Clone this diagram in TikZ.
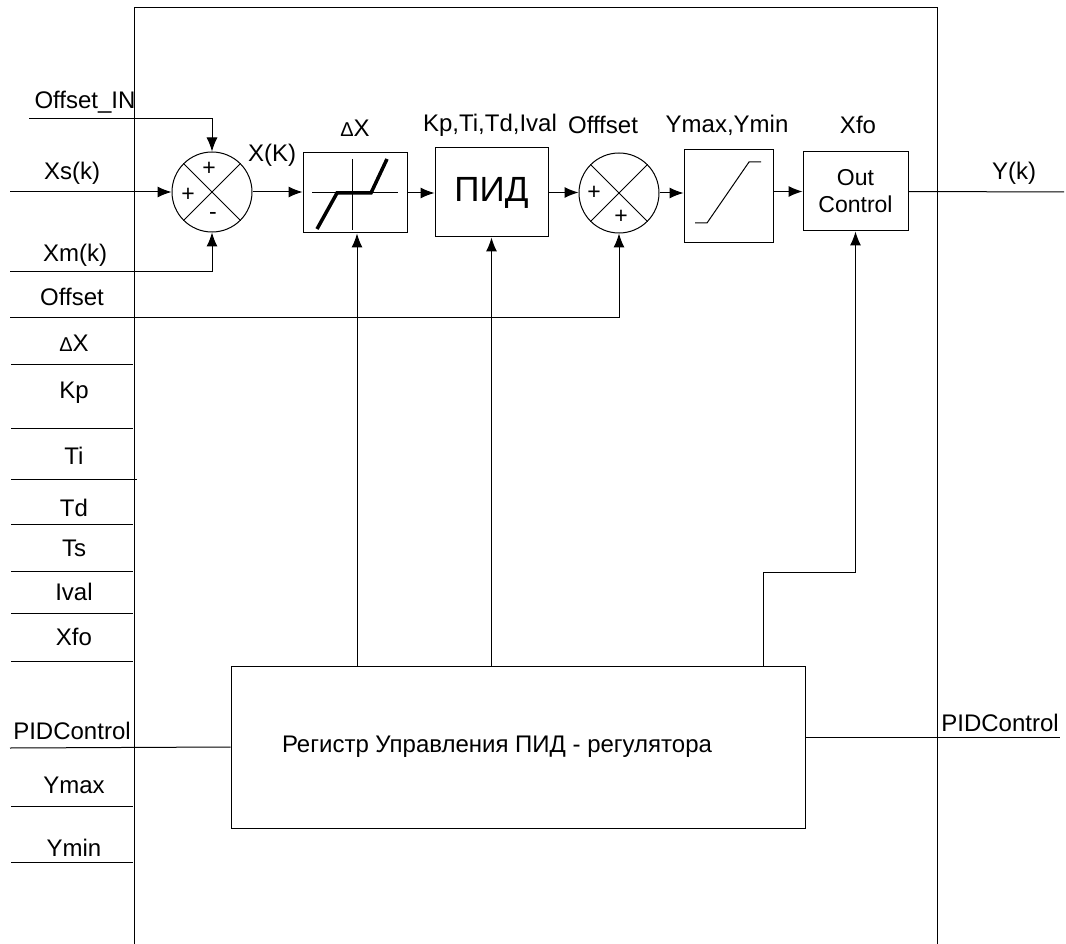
\documentclass[tikz,border=0pt]{standalone}
\usepackage{fontspec}
\setmainfont{Liberation Sans}
\usepackage{tikz}
\usetikzlibrary{arrows.meta, calc}
\newcommand\lblfont{\fontsize{24}{28}\selectfont}
\newcommand\sgnfont{\fontsize{23}{26}\selectfont}
\newcommand\dlt{{\fontsize{20}{24}\selectfont Δ}}

\begin{document}
\begin{tikzpicture}[x=1pt, y=-1pt, line width=1pt,
  every node/.style={font=\lblfont, inner sep=0pt},
  blk/.style={draw, rectangle},
  sumnode/.style={draw, circle, minimum size=80pt},
  arr/.style={-{Latex[length=14pt,width=11pt]}}]
  \useasboundingbox (0,0) rectangle (1066,944);

  % Frame of the block
  \draw (134,944) -- (134,8) -- (937,8) -- (937,944);

  % Blocks of the loop
  \node[sumnode] (sum1) at (212,192) {};
  \node[blk, minimum width=104pt, minimum height=80pt] (dz) at (355,193) {};
  \node[blk, minimum width=113pt, minimum height=89pt, font=\fontsize{35}{40}\selectfont] (pid) at (491.5,192.5) {ПИД};
  \node[sumnode] (sum2) at (619,193) {};
  \node[blk, minimum width=89pt, minimum height=93pt] (lim) at (728.5,196.5) {};
  \node[blk, minimum width=105pt, minimum height=79pt, align=center, font=\fontsize{23}{27}\selectfont] (outc) at (855.5,191.5) {Out\\Control};
  \node[blk, minimum width=574pt, minimum height=162pt] (reg) at (518,747) {};
  \node (regtxt) at (497,747) {Регистр Управления ПИД - регулятора};

  % Crosses and signs of the summers
  \foreach \s in {sum1, sum2}{
    \draw (\s.north west) -- (\s.south east);
    \draw (\s.north east) -- (\s.south west);
  }
  \node[font=\sgnfont] (s1a) at (209,169) {+};
  \node[font=\sgnfont] (s1b) at (188,195) {+};
  \node[font=\sgnfont] (s1c) at (213,216) {-};
  \node[font=\sgnfont] (s2a) at (594,193) {+};
  \node[font=\sgnfont] (s2b) at (621,217) {+};

  % Dead zone curve
  \draw (312,193) -- (398,193);
  \draw (352,159) -- (352,230);
  \draw[line width=3.5pt] (317,229) -- (337,193) -- (371,193) -- (387,159);

  % Limiter curve
  \draw (695,223) -- (707,223) -- (749,162) -- (761,162);

  % Labels above the blocks
  \node (lx) at (272,155) {X(K)};
  \node (ldx) at (355,128) {\dlt X};
  \node (lpar) at (490,125) {Kp,Ti,Td,Ival};
  \node (loff) at (603,125) {Offfset};
  \node (lyy) at (727,125) {Ymax,Ymin};
  \node (lxfo) at (858,125) {Xfo};
  \node (lyk) at (1014,173) {Y(k)};

  % Inputs
  \node (lofin) at (85,102) {Offset\_IN};
  \node (lxs) at (72,173) {Xs(k)};
  \node (lxm) at (75,255) {Xm(k)};
  \coordinate (ofin) at (29,119);
  \coordinate (xs) at (10,192);
  \coordinate (xm) at (10,272);
  \coordinate (off) at (10,317);
  \draw[arr] (ofin) -| (sum1.north);
  \draw[arr] (xs) -- (sum1.west);
  \draw[arr] (xm) -| (sum1.south);
  \draw[arr] (off) -| (sum2.south);
  \node (loffs) at (72,297) {Offset};

  % Forward path
  \draw[arr] (sum1.east) -- (dz.west |- sum1.east);
  \draw[arr] (dz.east) -- (pid.west |- dz.east);
  \draw[arr] (pid.east) -- (sum2.west |- pid.east);
  \draw[arr] (sum2.east) -- (lim.west |- sum2.east);
  \draw[arr] (lim.east |- outc.west) -- (outc.west);
  \coordinate (yk) at (1064,192);
  \draw (outc.east) -- (yk);

  % Parameter lines on the left
  \foreach \y/\lbl/\yl in {364/{\dlt X}/343, 428/Kp/393, 479/Ti/456,
    524/Td/508, 571/Ts/548, 613/Ival/592, 661/Xfo/637, 806/Ymax/785, 862/Ymin/848}{
    \draw (11,\y) -- (133,\y);
    \node at (74,\yl) {\lbl};
  }
  \draw (133,479) -- (137,479);

  % Register lines
  \node (lpidl) at (72,731) {PIDControl};
  \node (lpidr) at (1000,723) {PIDControl};
  \coordinate (pidl) at (10,748);
  \coordinate (pidr) at (1060,737);
  \draw (pidl) -- (reg.west);
  \draw (reg.east |- pidr) -- (pidr);
  \draw[arr] (reg.north -| 357,0) -- (dz.south -| 357,0);
  \draw[arr] (reg.north -| pid.south) -- (pid.south);
  \coordinate (bend) at (763,572);
  \draw[arr] (reg.north -| bend) -- (bend) -| (outc.south);
\end{tikzpicture}
\end{document}
